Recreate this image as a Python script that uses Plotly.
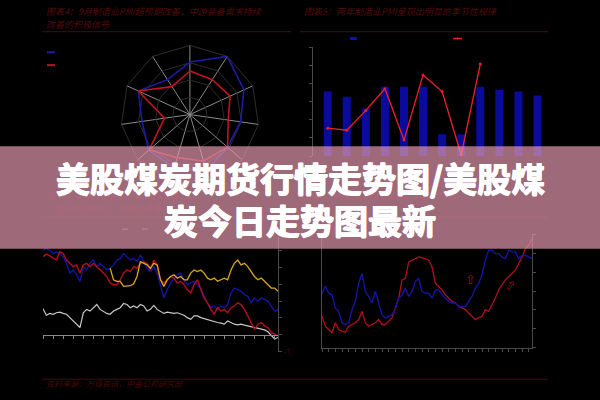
import plotly.graph_objects as go

# ---------------- data ----------------
radar_axes = ["A1", "A2", "A3", "A4", "A5", "A6", "A7", "A8", "A9", "A10", "A11"]
radar_blue = [0.76, 1.0, 0.86, 0.74, 0.72, 0.85, 0.80, 0.79, 0.70, 0.82, 0.60]
radar_red = [0.63, 0.60, 0.64, 0.56, 0.72, 0.70, 0.65, 0.78, 0.37, 0.82, 0.48]

months = ["1月", "2月", "3月", "4月", "5月", "6月", "7月", "8月", "9月", "10月", "11月", "12月"]
pmi_bars = [50.28, 50.14, 49.81, 50.41, 50.41, 50.41, 49.10, 49.10, 50.41, 50.33, 50.28, 50.17]
pmi_line = [49.27, 49.21, 49.76, 50.36, 48.94, 50.74, 50.28, 48.53, 51.04]

bl_blue = [5.04, 5.12, 5.04, 4.84, 4.92, 4.84, 4.65, 4.25, 3.67, 3.86, 3.57, 3.18, 4.06, 3.86, 4.25,
           4.45, 4.06, 4.25, 4.06, 3.86, 3.96, 4.16, 4.45, 4.55, 4.84, 4.65, 4.45, 4.55, 4.35, 4.75,
           4.35, 3.96, 3.76, 4.06, 3.67, 2.98, 2.20, 2.69, 3.08, 3.37, 3.57, 3.67, 3.27, 2.98, 3.08,
           3.18, 2.98, 2.78, 2.29, 1.90, 1.61, 1.71, 1.51, 1.71, 1.61, 1.80, 2.49, 2.78, 2.69, 2.59,
           2.39, 2.29, 1.90, 2.20, 2.00, 2.20, 2.10, 2.00, 1.71, 1.41, 1.51]
bl_red = [4.65, 4.80, 4.69, 4.55, 4.45, 4.94, 4.84, 4.45, 4.25, 4.06, 4.16, 3.67, 4.16, 4.25, 4.06,
          4.25, 4.06, 3.86, 3.67, 3.47, 3.08, 2.98, 2.98, 3.27, 3.67, 3.86, 3.76, 4.06, 3.96, 4.25,
          4.35, 4.25, 3.86, 4.45, 4.16, 3.27, 3.08, 3.27, 3.47, 3.37, 3.08, 3.18, 2.98, 2.69, 2.49,
          2.98, 3.27, 2.69, 2.20, 1.90, 1.51, 1.22, 1.61, 1.41, 1.51, 1.31, 1.61, 1.71, 1.90, 1.80,
          1.51, 1.12, 0.73, 0.33, 0.63, 0.73, 0.53, 0.43, 0.14, 0.04, -0.06]
bl_yellow = [3.96, 3.27, 3.18, 3.18, 2.88, 2.92, 2.92, 3.04, 3.47, 4.35, 4.25, 4.16, 3.96, 4.25, 4.16,
             3.27, 2.88, 3.27, 3.47, 3.57, 3.37, 3.47, 3.27, 3.27, 3.67, 3.86, 3.76, 3.86, 3.67, 3.37,
             3.27, 3.37, 3.18, 3.27, 3.37, 3.27, 3.86, 4.25, 4.45, 4.16, 4.25, 4.06, 3.76, 3.47, 3.27,
             3.37, 3.18, 2.98, 2.78, 2.78, 2.59]
bl_white = [1.55, 1.16, 1.27, 1.22, 1.31, 1.35, 1.27, 1.22, 1.02, 0.82, 0.63, 0.43, 1.31, 1.51, 1.41,
            1.61, 1.80, 1.51, 1.41, 1.27, 1.22, 1.41, 1.51, 1.61, 1.86, 1.80, 1.61, 1.71, 1.61, 1.80,
            1.71, 1.41, 1.51, 1.75, 1.51, 1.41, 1.27, 1.35, 1.31, 1.27, 1.31, 1.22, 1.16, 1.02, 0.92,
            1.12, 1.12, 1.02, 0.96, 0.88, 0.82, 0.76, 0.73, 0.69, 0.63, 0.82, 0.73, 0.63, 0.59, 0.63,
            0.57, 0.53, 0.49, 0.43, 0.37, 0.33, 0.29, 0.18, -0.06, -0.25, -0.16]

br_blue = [2.89, 3.28, 2.89, 2.81, 2.11, 1.93, 1.32, 1.23, 1.32, 2.02, 2.46, 3.42, 3.95, 2.98, 2.72,
           2.37, 2.98, 2.37, 1.75, 1.58, 1.67, 1.75, 2.02, 2.63, 2.81, 3.16, 2.72, 2.98, 3.51, 3.68,
           2.98, 2.89, 2.89, 2.63, 3.07, 3.07, 2.81, 2.63, 2.46, 2.37, 2.37, 2.19, 2.19, 2.19, 2.46,
           2.72, 3.16, 3.42, 3.86, 4.65, 5.18, 5.18, 5.00, 5.00, 4.82, 4.74, 5.18, 5.09, 5.09, 4.74,
           4.91, 4.91, 4.82, 4.74]
br_red = [1.67, 1.14, 0.96, 0.79, 1.32, 0.96, 0.88, 0.82, 1.14, 1.23, 1.32, 1.49, 1.93, 1.32, 1.14,
          1.23, 1.32, 1.49, 1.23, 1.23, 1.40, 1.58, 2.11, 2.63, 3.60, 3.68, 4.56, 4.65, 4.74, 4.82,
          4.79, 4.74, 4.65, 4.30, 3.42, 3.25, 3.07, 2.81, 2.63, 2.46, 2.37, 2.19, 2.11, 2.02, 1.84,
          1.67, 1.49, 1.58, 1.67, 2.02, 1.93, 2.28, 2.63, 3.07, 3.33, 3.60, 3.77, 3.95, 4.12, 4.47,
          4.82, 5.26, 5.44, 5.79]

title_main = ["美股煤炭期货行情走势图/美股煤", "炭今日走势图最新"]
title_tl = ["图表4：9月制造业PMI超预期改善，中游装备需求持续", "改善的积极信号"]
title_tr = "图表5：两年制造业PMI呈现出明显的季节性规律"
title_bl = ["图表6：美国煤炭期货价格与相关指数走势", "（2010年10月至今，标准化处理）"]
title_br = "图表7：PMI与工业增加值同比增速走势对比"
source_txt = "资料来源：万得资讯，中金公司研究部"

DARK_RED = "#530c0c"
CJK = "Noto Sans CJK SC"

fig = go.Figure()

# ---------------- radar ----------------
fig.add_trace(go.Scatterpolar(r=radar_blue + radar_blue[:1], theta=radar_axes + radar_axes[:1],
                              mode="lines", line=dict(color="#1c1ca8", width=1.6), showlegend=False))
fig.add_trace(go.Scatterpolar(r=radar_red + radar_red[:1], theta=radar_axes + radar_axes[:1],
                              mode="lines", line=dict(color="#c01420", width=1.6), showlegend=False))
fig.add_trace(go.Scatterpolar(r=[0], theta=[radar_axes[0]], mode="markers",
                              marker=dict(color="#dddddd", size=4), showlegend=False))

# ---------------- bars + line ----------------
fig.add_trace(go.Bar(x=months, y=pmi_bars, marker=dict(color="#0a0a9c", line=dict(width=0)),
                     xaxis="x", yaxis="y", showlegend=False))
fig.add_trace(go.Scatter(x=months[:len(pmi_line)], y=pmi_line, mode="lines+markers",
                         line=dict(color="#e0202a", width=1.4), marker=dict(size=3, color="#e0202a"),
                         xaxis="x", yaxis="y", showlegend=False))

# ---------------- bottom-left lines ----------------
bl_x = list(range(len(bl_blue)))
yx0 = len(bl_blue) - len(bl_yellow)
fig.add_trace(go.Scatter(x=bl_x, y=bl_white, mode="lines", line=dict(color="#c8c8c8", width=1.2),
                         xaxis="x2", yaxis="y2", showlegend=False))
fig.add_trace(go.Scatter(x=bl_x, y=bl_blue, mode="lines", line=dict(color="#1414a0", width=1.4),
                         xaxis="x2", yaxis="y2", showlegend=False))
fig.add_trace(go.Scatter(x=bl_x, y=bl_red, mode="lines", line=dict(color="#b0101c", width=1.4),
                         xaxis="x2", yaxis="y2", showlegend=False))
fig.add_trace(go.Scatter(x=bl_x[yx0:], y=bl_yellow, mode="lines", line=dict(color="#d9a61c", width=1.3),
                         xaxis="x2", yaxis="y2", showlegend=False))

# ---------------- bottom-right lines ----------------
br_x = list(range(len(br_blue)))
fig.add_trace(go.Scatter(x=br_x, y=br_red, mode="lines", line=dict(color="#b0101c", width=1.3),
                         xaxis="x3", yaxis="y3", showlegend=False))
fig.add_trace(go.Scatter(x=br_x, y=br_blue, mode="lines", line=dict(color="#1414a0", width=1.4),
                         xaxis="x3", yaxis="y3", showlegend=False))

axis_grey = "#4a4a4a"
fig.update_layout(
    width=600, height=400, margin=dict(l=0, r=0, t=0, b=0),
    paper_bgcolor="black", plot_bgcolor="black",
    bargap=0.58,
    polar=dict(
        domain=dict(x=[0.2, 0.433], y=[0.535, 0.885]),
        bgcolor="black", gridshape="linear",
        angularaxis=dict(rotation=90, direction="clockwise", showticklabels=False, ticks="",
                         gridcolor="#8a8a8a", gridwidth=0.7, linecolor="#3a3a3a", linewidth=0.8),
        radialaxis=dict(range=[0, 1], showticklabels=False, ticks="", showline=False,
                        tickvals=[0.25, 0.5, 0.75], gridcolor="#2c2c2c", gridwidth=0.8),
    ),
    xaxis=dict(domain=[0.5217, 0.9117], anchor="y", showline=False, showticklabels=False,
               ticks="", showgrid=False, zeroline=False),
    yaxis=dict(domain=[0.605, 0.88], anchor="x", range=[48.5, 51.5], dtick=0.5,
               showline=True, linecolor=axis_grey, linewidth=1, ticks="outside", ticklen=3,
               tickcolor=axis_grey, showticklabels=False, showgrid=False, zeroline=False),
    xaxis2=dict(domain=[0.0717, 0.4633], anchor="free", position=0.1525, range=[0, 70],
                showline=True, linecolor="#8a8a8a", linewidth=1, ticks="outside", ticklen=3,
                tickcolor="#8a8a8a", dtick=3, showticklabels=False, showgrid=False, zeroline=False),
    yaxis2=dict(domain=[0.11, 0.40], anchor="x2", side="right", range=[-1, 5.82],
                showline=True, linecolor=axis_grey, linewidth=1, ticks="outside", ticklen=3,
                tickcolor=axis_grey, tickvals=[-1, 0, 1, 2, 3, 4, 5],
                ticktext=["-1", "", "", "", "", "", ""], tickfont=dict(color=DARK_RED, size=8),
                showgrid=False, zeroline=False),
    xaxis3=dict(domain=[0.5367, 0.8867], anchor="y3", range=[0, 63],
                showline=True, linecolor=axis_grey, linewidth=1, ticks="outside", ticklen=3,
                tickcolor=axis_grey, dtick=2, showticklabels=False, showgrid=False, zeroline=False),
    yaxis3=dict(domain=[0.12, 0.4075], anchor="x3", side="right", range=[0, 6.04], dtick=1,
                showline=True, mirror=True, linecolor=axis_grey, linewidth=1, ticks="outside",
                ticklen=3, tickcolor=axis_grey, showticklabels=False, showgrid=False, zeroline=False),
)

shapes = []
def hline(x0, x1, y, color, width=1):
    shapes.append(dict(type="line", xref="paper", yref="paper", x0=x0 / 600, x1=x1 / 600,
                       y0=1 - y / 400, y1=1 - y / 400, line=dict(color=color, width=width)))

# title rules
hline(42, 291, 32, "#3c0808", 1.2)
hline(300, 548, 32, "#3c0808", 1.2)
hline(42, 548, 220, "#3c0808", 1.0)
hline(42, 548, 384, "#4a0a0a", 1.0)
# legend keys
hline(47, 55, 53, "#1c1ca8", 2)
hline(47, 55, 66, "#c01420", 2)
hline(350, 357, 39, "#1010b0", 3)
hline(453, 462, 39, "#e0202a", 1.5)
hline(122, 128, 232, "#555555", 1.2)
hline(142, 148, 232, "#555555", 1.2)
shapes.append(dict(type="circle", xref="paper", yref="paper", x0=456.5 / 600, x1=458.5 / 600,
                   y0=1 - 40 / 400, y1=1 - 38 / 400, fillcolor="#e0202a", line=dict(width=0)))
# translucent band
shapes.append(dict(type="rect", xref="paper", yref="paper", x0=0, x1=1,
                   y0=1 - 252 / 400, y1=1 - 148 / 400, fillcolor="rgba(225,150,172,0.70)",
                   line=dict(width=0), layer="above"))
fig.update_layout(shapes=shapes)

ann = []
def text(x, y, s, color, size, xanchor="left", family=CJK, italic=True, **kw):
    t = f"<i>{s}</i>" if italic else s
    ann.append(dict(x=x / 600, y=1 - y / 400, xref="paper", yref="paper", text=t, showarrow=False,
                    xanchor=xanchor, yanchor="middle", font=dict(family=family, size=size, color=color),
                    **kw))

text(44, 12, title_tl[0], DARK_RED, 9)
text(44, 25, title_tl[1], DARK_RED, 9)
text(302, 12, title_tr, DARK_RED, 9)
text(44, 388, source_txt, "#4a0a0a", 8)
# faint titles behind the band (blended colour)
faint = "rgb(176,104,122)"
text(44, 198, title_bl[0], faint, 8)
text(44, 210, title_bl[1], faint, 8)
text(302, 198, title_br, faint, 8)
# arrows in bottom-right panel
text(470, 283, "⇧", "#8b1a1a", 13, xanchor="center", family="DejaVu Sans", italic=False)
text(510, 289, "⇧", "#8b1a1a", 13, xanchor="center", family="DejaVu Sans", italic=False, textangle=35)
# main title
for s, yy in zip(title_main, [180, 222]):
    ann.append(dict(x=0.5, y=1 - yy / 400, xref="paper", yref="paper", text=f"<b>{s}</b>",
                    showarrow=False, xanchor="center", yanchor="middle",
                    font=dict(family=CJK, size=34, color="white",
                              shadow="0.7px 0 0 white, -0.7px 0 0 white, 0 0.6px 0 white")))
fig.update_layout(annotations=ann)

fig.write_html("out.html", config={"displayModeBar": False},
               post_script="document.body.style.margin='0';")
